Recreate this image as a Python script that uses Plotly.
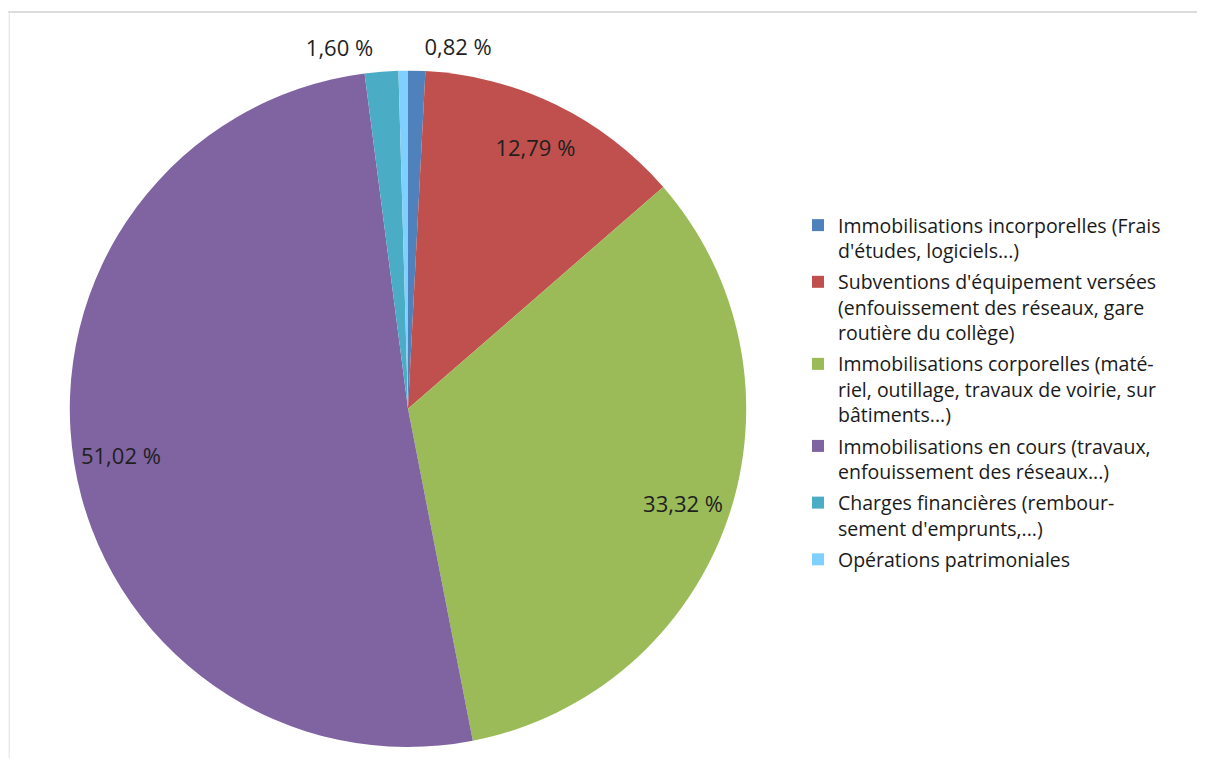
import plotly.graph_objects as go

categories = [
    "Immobilisations incorporelles (Frais<br>d'études, logiciels...)",
    "Subventions d'équipement versées<br>(enfouissement des réseaux, gare<br>routière du collège)",
    "Immobilisations corporelles (maté-<br>riel, outillage, travaux de voirie, sur<br>bâtiments...)",
    "Immobilisations en cours (travaux,<br>enfouissement des réseaux...)",
    "Charges financières (rembour-<br>sement d'emprunts,...)",
    "Opérations patrimoniales",
]
values = [0.82, 12.79, 33.32, 51.02, 1.60, 0.45]
# where each data label goes: outside the pie, inside near the rim, or not shown
label_mode = ["outside", "rim", "rim", "rim", "outside", "none"]
colors = ["#4F81BD", "#C0504D", "#9BBB59", "#8064A2", "#4BACC6", "#7FCFFF"]

pct = [f"{v:.2f} %".replace(".", ",") for v in values]

# page body has an 8px margin; figure coords = screen coords - 8
OFF = 8
W, H = 1205 - 2 * OFF, 770 - 2 * OFF
cx, cy, R = 408 - OFF, 411 - OFF, 340


def domain(r):
    return dict(x=[(cx - r) / W, (cx + r) / W], y=[1 - (cy + r) / H, 1 - (cy - r) / H])


label_font = dict(family="Open Sans, sans-serif", size=22, color="#1f1f1f")
legend_font = dict(family="Open Sans, sans-serif", size=19.5, color="#1a1a1a")
clear = ["rgba(0,0,0,0)"] * len(values)

fig = go.Figure()

# main pie
fig.add_trace(go.Pie(
    labels=categories, values=values,
    textinfo="none",
    sort=False, direction="clockwise", rotation=0,
    marker=dict(colors=colors, line=dict(width=0)),
    domain=domain(R), showlegend=False,
))

# transparent ring over the same pie: its inside labels sit near the rim
fig.add_trace(go.Pie(
    labels=categories, values=values, hole=0.72,
    text=[t if m == "rim" else "" for t, m in zip(pct, label_mode)],
    textinfo="text",
    textposition=["inside" if m == "rim" else "none" for m in label_mode],
    insidetextorientation="horizontal",
    sort=False, direction="clockwise", rotation=0,
    marker=dict(colors=clear, line=dict(width=0)),
    textfont=label_font, insidetextfont=label_font,
    domain=domain(R), showlegend=False, hoverinfo="skip",
))

# slightly larger transparent pie carrying the outside labels of the small slices
fig.add_trace(go.Pie(
    labels=categories, values=values, hole=0.98,
    text=[t if m == "outside" else "" for t, m in zip(pct, label_mode)],
    textinfo="text",
    textposition=["outside" if m == "outside" else "none" for m in label_mode],
    sort=False, direction="clockwise", rotation=0,
    marker=dict(colors=clear, line=dict(width=0)),
    textfont=label_font, outsidetextfont=label_font,
    domain=domain(R + 10), showlegend=False, hoverinfo="skip",
))

# legend entries (one group per category so the gap between entries can be set)
for i, (name, col) in enumerate(zip(categories, colors)):
    fig.add_trace(go.Scatter(
        x=[None], y=[None], mode="markers", name=name,
        marker=dict(symbol="square", size=12, color=col),
        legendgroup=f"g{i}", showlegend=True, hoverinfo="skip",
    ))

fig.update_layout(
    width=W, height=H,
    margin=dict(l=0, r=0, t=0, b=0),
    paper_bgcolor="white", plot_bgcolor="white",
    xaxis=dict(visible=False), yaxis=dict(visible=False),
    font=legend_font,
    legend=dict(
        x=(798 - OFF) / W, y=1 - (207 - OFF) / H, xanchor="left", yanchor="top",
        font=legend_font, valign="top", tracegroupgap=3,
        traceorder="grouped", itemclick=False, itemdoubleclick=False,
    ),
    shapes=[
        dict(type="line", xref="paper", yref="paper", x0=0, x1=1,
             y0=1 - (12 - OFF) / H, y1=1 - (12 - OFF) / H,
             line=dict(color="#D0D0D0", width=1.5)),
        dict(type="line", xref="paper", yref="paper", x0=0.001, x1=0.001,
             y0=0, y1=1 - (12 - OFF) / H,
             line=dict(color="#E0E0E0", width=1)),
    ],
)

fig.write_html("out.html")
